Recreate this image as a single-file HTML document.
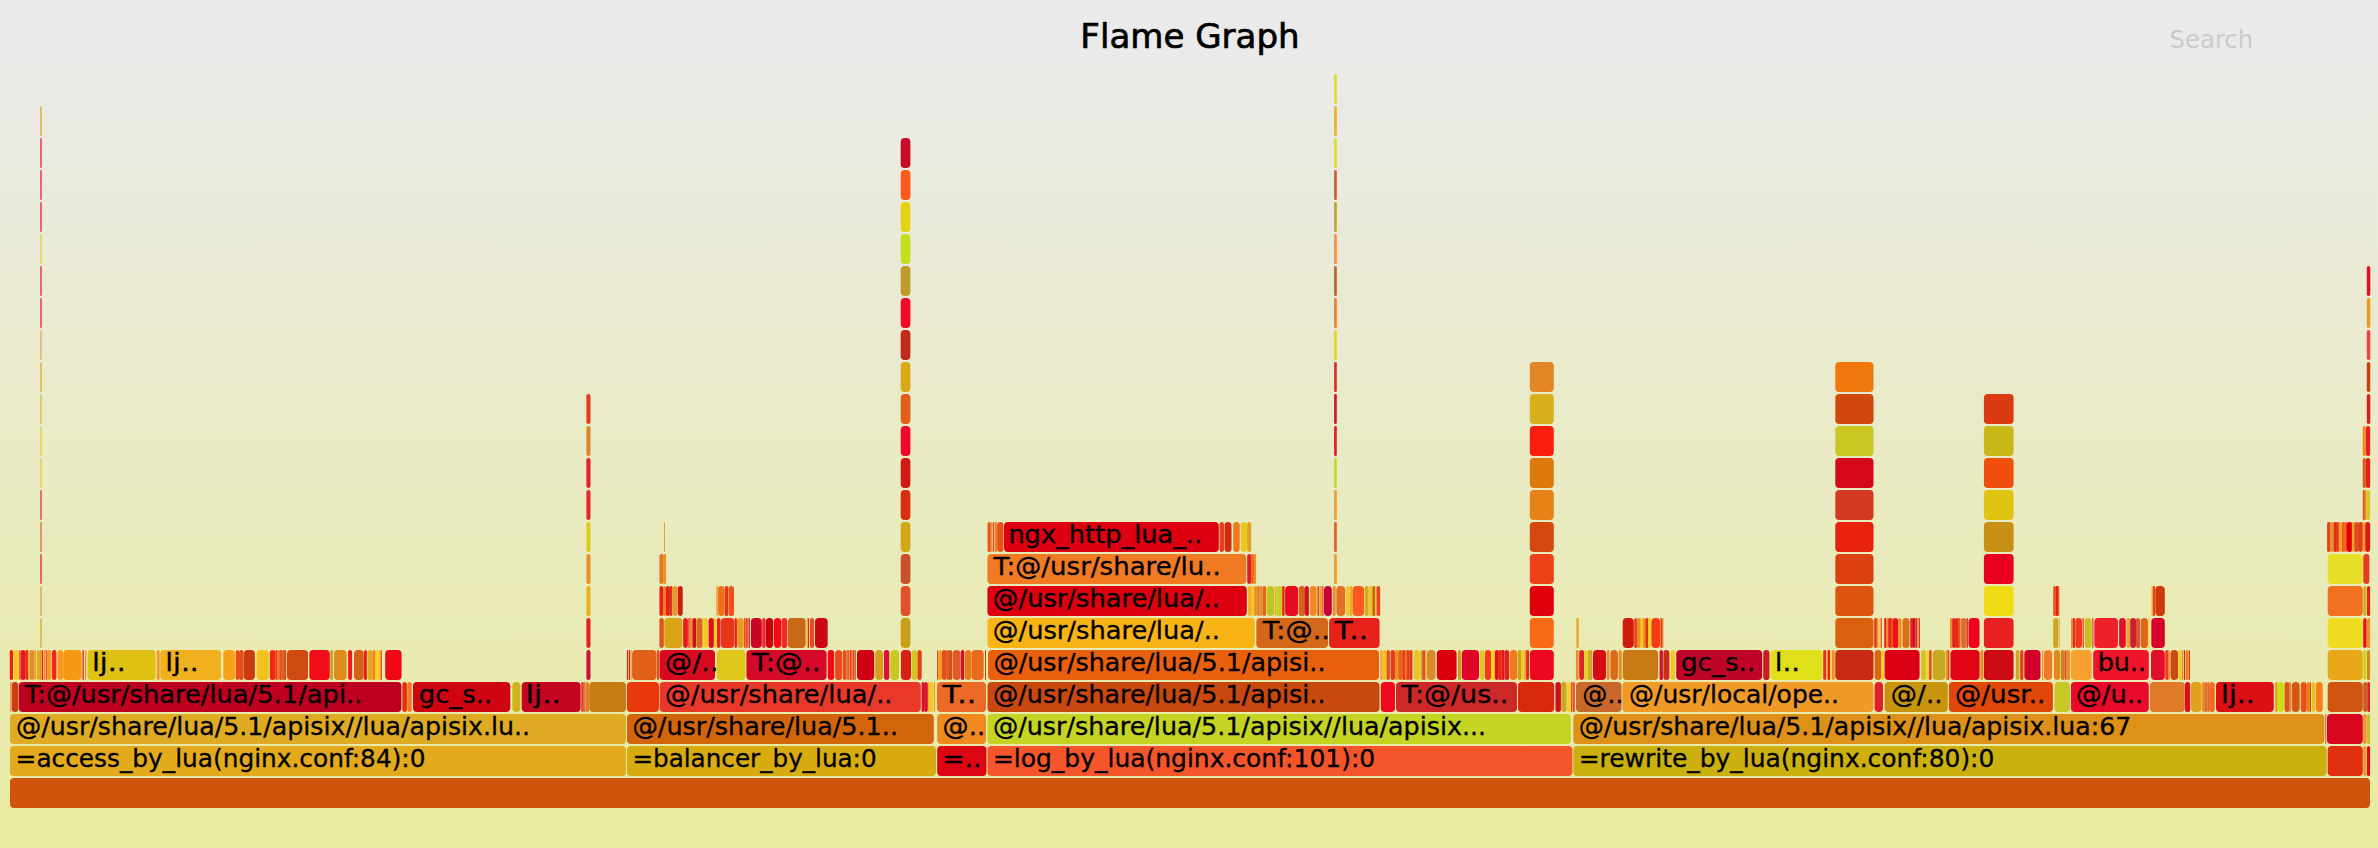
<!DOCTYPE html>
<html lang="en"><head><meta charset="utf-8"><title>Flame Graph</title>
<style>
html,body{margin:0;padding:0;background:#ecec9f;}
body{width:2378px;height:848px;overflow:hidden;}
svg{display:block}
text{font-family:"DejaVu Sans","Liberation Sans",sans-serif;}
.f{font-size:24px;fill:#000;stroke:#000;stroke-width:0.3px}
</style></head><body>
<svg width="2378" height="848" viewBox="0 0 2378 848">
<defs><linearGradient id="bg" x1="0" y1="0" x2="0" y2="876" gradientUnits="userSpaceOnUse"><stop offset="5%" stop-color="#eaeaea"/><stop offset="95%" stop-color="#e9eba2"/></linearGradient></defs>
<rect x="0" y="0" width="2378" height="848" fill="url(#bg)"/>
<text x="1190" y="48" text-anchor="middle" font-size="34" fill="#000" stroke="#000" stroke-width="0.7" textLength="219.3" lengthAdjust="spacingAndGlyphs">Flame Graph</text>
<text x="2169.5" y="48" font-size="24" fill="#000" opacity="0.13" textLength="83.7" lengthAdjust="spacingAndGlyphs">Search</text>
<rect x="10" y="778" width="2360" height="30" rx="4" ry="4" fill="#d0520c"/>
<rect x="10" y="746" width="616" height="30" rx="4" ry="4" fill="#e2aa1c"/><text class="f" x="15.6" y="767" textLength="409.9" lengthAdjust="spacingAndGlyphs">=access_by_lua(nginx.conf:84):0</text>
<rect x="627" y="746" width="309" height="30" rx="4" ry="4" fill="#d8ac10"/><text class="f" x="632.4" y="767" textLength="244.2" lengthAdjust="spacingAndGlyphs">=balancer_by_lua:0</text>
<rect x="937.2" y="746" width="49.3" height="30" rx="4" ry="4" fill="#dc0514"/><text class="f" x="942.6" y="767" textLength="38.8" lengthAdjust="spacingAndGlyphs">=..</text>
<rect x="987.5" y="746" width="584.9" height="30" rx="4" ry="4" fill="#f4552a"/><text class="f" x="992.9" y="767" textLength="382.3" lengthAdjust="spacingAndGlyphs">=log_by_lua(nginx.conf:101):0</text>
<rect x="1573.3" y="746" width="753.4" height="30" rx="4" ry="4" fill="#ccb010"/><text class="f" x="1578.7" y="767" textLength="415.7" lengthAdjust="spacingAndGlyphs">=rewrite_by_lua(nginx.conf:80):0</text>
<rect x="2327.7" y="746" width="35.1" height="30" rx="4" ry="4" fill="#e03010"/>
<rect x="2363.2" y="746" width="3.4" height="30" rx="1.7" ry="1.7" fill="#e89a28"/>
<rect x="2367" y="746" width="3.1" height="30" rx="1.5" ry="1.5" fill="#e00a20"/>
<rect x="10" y="714" width="616" height="30" rx="4" ry="4" fill="#dfab22"/><text class="f" x="16" y="735" textLength="514.1" lengthAdjust="spacingAndGlyphs">@/usr/share/lua/5.1/apisix//lua/apisix.lu..</text>
<rect x="627" y="714" width="306.8" height="30" rx="4" ry="4" fill="#d2650c"/><text class="f" x="632.4" y="735" textLength="265.6" lengthAdjust="spacingAndGlyphs">@/usr/share/lua/5.1..</text>
<rect x="937.2" y="714" width="48.8" height="30" rx="4" ry="4" fill="#ee8a20"/><text class="f" x="942.6" y="735" textLength="42.6" lengthAdjust="spacingAndGlyphs">@..</text>
<rect x="987.5" y="714" width="583.4" height="30" rx="4" ry="4" fill="#c5d422"/><text class="f" x="992.9" y="735" textLength="493.3" lengthAdjust="spacingAndGlyphs">@/usr/share/lua/5.1/apisix//lua/apisix...</text>
<rect x="1573.3" y="714" width="751" height="30" rx="4" ry="4" fill="#de9118"/><text class="f" x="1578.7" y="735" textLength="552.5" lengthAdjust="spacingAndGlyphs">@/usr/share/lua/5.1/apisix//lua/apisix.lua:67</text>
<rect x="2325.4" y="714" width="0.8" height="30" rx="0.4" ry="0.4" fill="#e02020"/>
<rect x="2327" y="714" width="35.8" height="30" rx="4" ry="4" fill="#d8061c"/>
<rect x="2363.2" y="714" width="3.4" height="30" rx="1.7" ry="1.7" fill="#f09030"/>
<rect x="2367" y="714" width="3.1" height="30" rx="1.5" ry="1.5" fill="#c8c030"/>
<rect x="10.4" y="682" width="0.9" height="30" rx="0.5" ry="0.5" fill="#f0601a"/>
<rect x="11.8" y="682" width="6.5" height="30" rx="3.2" ry="3.2" fill="#cc3d12"/>
<rect x="18.8" y="682" width="382.6" height="30" rx="4" ry="4" fill="#be0020"/><text class="f" x="24.7" y="703" textLength="337.7" lengthAdjust="spacingAndGlyphs">T:@/usr/share/lua/5.1/api..</text>
<rect x="402.3" y="682" width="4.6" height="30" rx="2.3" ry="2.3" fill="#e03010"/>
<rect x="407.2" y="682" width="4.6" height="30" rx="2.3" ry="2.3" fill="#f57820"/>
<rect x="413" y="682" width="97.3" height="30" rx="4" ry="4" fill="#cf0512"/><text class="f" x="418.7" y="703" textLength="73.6" lengthAdjust="spacingAndGlyphs">gc_s..</text>
<rect x="512.3" y="682" width="8.1" height="30" rx="4" ry="4" fill="#cdb418"/>
<rect x="521.7" y="682" width="58.9" height="30" rx="4" ry="4" fill="#c40620"/><text class="f" x="525.8" y="703" textLength="35.1" lengthAdjust="spacingAndGlyphs">lj..</text>
<rect x="581.2" y="682" width="2.6" height="30" rx="1.3" ry="1.3" fill="#e8401a"/>
<rect x="584.4" y="682" width="1" height="30" rx="0.5" ry="0.5" fill="#e0201a"/>
<rect x="585.9" y="682" width="3.1" height="30" rx="1.6" ry="1.6" fill="#e0801a"/>
<rect x="589.2" y="682" width="36.8" height="30" rx="4" ry="4" fill="#c87c14"/>
<rect x="626.9" y="682" width="32.1" height="30" rx="4" ry="4" fill="#e8380c"/>
<rect x="659.6" y="682" width="261.2" height="30" rx="4" ry="4" fill="#e8382a"/><text class="f" x="665" y="703" textLength="227.5" lengthAdjust="spacingAndGlyphs">@/usr/share/lua/..</text>
<rect x="921.6" y="682" width="2.5" height="30" rx="1.2" ry="1.2" fill="#d8102a"/>
<rect x="924.1" y="682" width="3.7" height="30" rx="1.9" ry="1.9" fill="#d8102a"/>
<rect x="928.2" y="682" width="0.7" height="30" rx="0.3" ry="0.3" fill="#f0901a"/>
<rect x="929" y="682" width="4.5" height="30" rx="2.3" ry="2.3" fill="#f8c81e"/>
<rect x="934" y="682" width="1" height="30" rx="0.5" ry="0.5" fill="#f0901a"/>
<rect x="937" y="682" width="49" height="30" rx="4" ry="4" fill="#ec6a28"/><text class="f" x="942.4" y="703" textLength="34" lengthAdjust="spacingAndGlyphs">T..</text>
<rect x="987.5" y="682" width="392" height="30" rx="4" ry="4" fill="#c8480f"/><text class="f" x="992.9" y="703" textLength="332.6" lengthAdjust="spacingAndGlyphs">@/usr/share/lua/5.1/apisi..</text>
<rect x="1380.8" y="682" width="14.2" height="30" rx="4" ry="4" fill="#f00820"/>
<rect x="1396" y="682" width="121" height="30" rx="4" ry="4" fill="#cc2828"/><text class="f" x="1401.4" y="703" textLength="107" lengthAdjust="spacingAndGlyphs">T:@/us..</text>
<rect x="1518" y="682" width="36.2" height="30" rx="4" ry="4" fill="#d8280e"/>
<rect x="1555.4" y="682" width="5.5" height="30" rx="2.7" ry="2.7" fill="#cc1020"/>
<rect x="1561.2" y="682" width="5.4" height="30" rx="2.7" ry="2.7" fill="#c8a820"/>
<rect x="1567.2" y="682" width="3.2" height="30" rx="1.6" ry="1.6" fill="#f8d020"/>
<rect x="1570.9" y="682" width="0.9" height="30" rx="0.4" ry="0.4" fill="#e02020"/>
<rect x="1572.4" y="682" width="2.5" height="30" rx="1.2" ry="1.2" fill="#e8501a"/>
<rect x="1576" y="682" width="45.5" height="30" rx="4" ry="4" fill="#c8682a"/><text class="f" x="1582.3" y="703" textLength="41.1" lengthAdjust="spacingAndGlyphs">@..</text>
<rect x="1622.3" y="682" width="251.2" height="30" rx="4" ry="4" fill="#f09a28"/><text class="f" x="1629" y="703" textLength="210" lengthAdjust="spacingAndGlyphs">@/usr/local/ope..</text>
<rect x="1874.6" y="682" width="8.4" height="30" rx="4" ry="4" fill="#e0202a"/>
<rect x="1884.6" y="682" width="63.2" height="30" rx="4" ry="4" fill="#c8940c"/><text class="f" x="1890.8" y="703" textLength="51.8" lengthAdjust="spacingAndGlyphs">@/..</text>
<rect x="1948.9" y="682" width="104" height="30" rx="4" ry="4" fill="#e0480a"/><text class="f" x="1955" y="703" textLength="90.4" lengthAdjust="spacingAndGlyphs">@/usr..</text>
<rect x="2054.4" y="682" width="15.5" height="30" rx="4" ry="4" fill="#c8c828"/>
<rect x="2070.9" y="682" width="77.9" height="30" rx="4" ry="4" fill="#e80a28"/><text class="f" x="2076.1" y="703" textLength="67.2" lengthAdjust="spacingAndGlyphs">@/u..</text>
<rect x="2149.9" y="682" width="34.9" height="30" rx="4" ry="4" fill="#e07a28"/>
<rect x="2185" y="682" width="5.2" height="30" rx="2.6" ry="2.6" fill="#d81020"/>
<rect x="2190.9" y="682" width="10.7" height="30" rx="4" ry="4" fill="#e0a01c"/>
<rect x="2202.2" y="682" width="2.6" height="30" rx="1.3" ry="1.3" fill="#f0801a"/>
<rect x="2204.6" y="682" width="3.1" height="30" rx="1.5" ry="1.5" fill="#e0702a"/>
<rect x="2207.8" y="682" width="1" height="30" rx="0.5" ry="0.5" fill="#c8501a"/>
<rect x="2209.1" y="682" width="5.6" height="30" rx="2.8" ry="2.8" fill="#f86820"/>
<rect x="2216" y="682" width="57.8" height="30" rx="4" ry="4" fill="#dc1014"/><text class="f" x="2221" y="703" textLength="33.8" lengthAdjust="spacingAndGlyphs">lj..</text>
<rect x="2275.2" y="682" width="2.3" height="30" rx="1.1" ry="1.1" fill="#f0901a"/>
<rect x="2277.7" y="682" width="6.4" height="30" rx="3.2" ry="3.2" fill="#c8e010"/>
<rect x="2284.6" y="682" width="4.7" height="30" rx="2.3" ry="2.3" fill="#e0501a"/>
<rect x="2289.4" y="682" width="1.4" height="30" rx="0.7" ry="0.7" fill="#e8601a"/>
<rect x="2291.7" y="682" width="8" height="30" rx="4" ry="4" fill="#d05a14"/>
<rect x="2300.7" y="682" width="6.1" height="30" rx="3.1" ry="3.1" fill="#e8501a"/>
<rect x="2307" y="682" width="3" height="30" rx="1.5" ry="1.5" fill="#f0801a"/>
<rect x="2310" y="682" width="1" height="30" rx="0.5" ry="0.5" fill="#c8501a"/>
<rect x="2311.7" y="682" width="3.5" height="30" rx="1.8" ry="1.8" fill="#e8c020"/>
<rect x="2315.8" y="682" width="7" height="30" rx="3.5" ry="3.5" fill="#f8801a"/>
<rect x="2327.7" y="682" width="35.1" height="30" rx="4" ry="4" fill="#d05412"/>
<rect x="2363.2" y="682" width="4" height="30" rx="2" ry="2" fill="#c8602a"/>
<rect x="2367.3" y="682" width="2.7" height="30" rx="1.3" ry="1.3" fill="#e0201a"/>
<rect x="9.8" y="650" width="3.2" height="30" rx="1.6" ry="1.6" fill="#e8201a"/>
<rect x="13.3" y="650" width="5.4" height="30" rx="2.7" ry="2.7" fill="#f8c81e"/>
<rect x="19.3" y="650" width="1" height="30" rx="0.5" ry="0.5" fill="#e8201a"/>
<rect x="20.5" y="650" width="5.3" height="30" rx="2.7" ry="2.7" fill="#e81a1a"/>
<rect x="25.8" y="650" width="2.3" height="30" rx="1.2" ry="1.2" fill="#e8301a"/>
<rect x="28.3" y="650" width="1.1" height="30" rx="0.5" ry="0.5" fill="#f0901a"/>
<rect x="29.6" y="650" width="4.7" height="30" rx="2.4" ry="2.4" fill="#e0902a"/>
<rect x="34.4" y="650" width="1.4" height="30" rx="0.7" ry="0.7" fill="#f0901a"/>
<rect x="36.6" y="650" width="3.3" height="30" rx="1.7" ry="1.7" fill="#e0b020"/>
<rect x="39.6" y="650" width="2.2" height="30" rx="1.1" ry="1.1" fill="#f0901a"/>
<rect x="42" y="650" width="1.2" height="30" rx="0.6" ry="0.6" fill="#e8201a"/>
<rect x="43.9" y="650" width="1.4" height="30" rx="0.7" ry="0.7" fill="#f0901a"/>
<rect x="45.8" y="650" width="0.9" height="30" rx="0.5" ry="0.5" fill="#e8201a"/>
<rect x="46.9" y="650" width="4.5" height="30" rx="2.2" ry="2.2" fill="#f09a28"/>
<rect x="52" y="650" width="4.4" height="30" rx="2.2" ry="2.2" fill="#f8201a"/>
<rect x="57.6" y="650" width="5.4" height="30" rx="2.7" ry="2.7" fill="#f59a1a"/>
<rect x="63.2" y="650" width="18.4" height="30" rx="4" ry="4" fill="#f59a10"/>
<rect x="82.5" y="650" width="1.3" height="30" rx="0.6" ry="0.6" fill="#e0201a"/>
<rect x="84.9" y="650" width="1.4" height="30" rx="0.7" ry="0.7" fill="#f0902a"/>
<rect x="87.5" y="650" width="68.1" height="30" rx="4" ry="4" fill="#dfc211"/><text class="f" x="92" y="671" textLength="33.7" lengthAdjust="spacingAndGlyphs">lj..</text>
<rect x="156.7" y="650" width="3" height="30" rx="1.5" ry="1.5" fill="#f09a30"/>
<rect x="160.2" y="650" width="60.8" height="30" rx="4" ry="4" fill="#f0b020"/><text class="f" x="165.3" y="671" textLength="33.5" lengthAdjust="spacingAndGlyphs">lj..</text>
<rect x="223.3" y="650" width="11.7" height="30" rx="4" ry="4" fill="#f5a214"/>
<rect x="235.7" y="650" width="3.4" height="30" rx="1.7" ry="1.7" fill="#f04a1a"/>
<rect x="239" y="650" width="4.6" height="30" rx="2.3" ry="2.3" fill="#e0501a"/>
<rect x="243.8" y="650" width="11.1" height="30" rx="4" ry="4" fill="#cc3a10"/>
<rect x="256.5" y="650" width="12.3" height="30" rx="4" ry="4" fill="#f2c31d"/>
<rect x="269.8" y="650" width="5.5" height="30" rx="2.8" ry="2.8" fill="#ee2a12"/>
<rect x="275.2" y="650" width="2.5" height="30" rx="1.3" ry="1.3" fill="#e8401a"/>
<rect x="277.4" y="650" width="2.5" height="30" rx="1.3" ry="1.3" fill="#f07a30"/>
<rect x="279.5" y="650" width="2.5" height="30" rx="1.3" ry="1.3" fill="#e0502a"/>
<rect x="281.7" y="650" width="2.5" height="30" rx="1.3" ry="1.3" fill="#e8602a"/>
<rect x="283.8" y="650" width="2.5" height="30" rx="1.3" ry="1.3" fill="#d8501a"/>
<rect x="287" y="650" width="21" height="30" rx="4" ry="4" fill="#cf4a10"/>
<rect x="309.3" y="650" width="20.5" height="30" rx="4" ry="4" fill="#f20d18"/>
<rect x="330.3" y="650" width="2.6" height="30" rx="1.3" ry="1.3" fill="#c0a020"/>
<rect x="333.9" y="650" width="12.7" height="30" rx="4" ry="4" fill="#dd8c1e"/>
<rect x="348.1" y="650" width="4" height="30" rx="2" ry="2" fill="#f01a1a"/>
<rect x="354" y="650" width="9.8" height="30" rx="4" ry="4" fill="#d4601a"/>
<rect x="364" y="650" width="2.9" height="30" rx="1.5" ry="1.5" fill="#e8201a"/>
<rect x="367.5" y="650" width="5" height="30" rx="2.5" ry="2.5" fill="#e0a81a"/>
<rect x="372.4" y="650" width="3.1" height="30" rx="1.6" ry="1.6" fill="#f08020"/>
<rect x="375.4" y="650" width="4.9" height="30" rx="2.5" ry="2.5" fill="#f8d01e"/>
<rect x="380.6" y="650" width="1.2" height="30" rx="0.6" ry="0.6" fill="#e02a1a"/>
<rect x="385.2" y="650" width="16.4" height="30" rx="4" ry="4" fill="#ee0814"/>
<rect x="586.4" y="650" width="4.1" height="30" rx="2.1" ry="2.1" fill="#c8103a"/>
<rect x="626.9" y="650" width="1.4" height="30" rx="0.7" ry="0.7" fill="#e8201a"/>
<rect x="629" y="650" width="1.2" height="30" rx="0.6" ry="0.6" fill="#e8201a"/>
<rect x="630.7" y="650" width="0.9" height="30" rx="0.4" ry="0.4" fill="#f0901a"/>
<rect x="632.1" y="650" width="24.5" height="30" rx="4" ry="4" fill="#e0601a"/>
<rect x="657" y="650" width="2.3" height="30" rx="1.2" ry="1.2" fill="#e8501a"/>
<rect x="659.6" y="650" width="55.4" height="30" rx="4" ry="4" fill="#d80a20"/><text class="f" x="665" y="671" textLength="53.6" lengthAdjust="spacingAndGlyphs">@/..</text>
<rect x="716.7" y="650" width="28.7" height="30" rx="4" ry="4" fill="#e0c81a"/>
<rect x="746.4" y="650" width="80.2" height="30" rx="4" ry="4" fill="#d40a28"/><text class="f" x="751.8" y="671" textLength="68.8" lengthAdjust="spacingAndGlyphs">T:@..</text>
<rect x="827.7" y="650" width="6.5" height="30" rx="3.2" ry="3.2" fill="#f00a14"/>
<rect x="835.1" y="650" width="7.1" height="30" rx="3.6" ry="3.6" fill="#ea4a1a"/>
<rect x="842.8" y="650" width="3.5" height="30" rx="1.8" ry="1.8" fill="#e0501a"/>
<rect x="846.4" y="650" width="1.4" height="30" rx="0.7" ry="0.7" fill="#e8501a"/>
<rect x="848" y="650" width="1.4" height="30" rx="0.7" ry="0.7" fill="#f0601a"/>
<rect x="849.6" y="650" width="1.4" height="30" rx="0.7" ry="0.7" fill="#e8401a"/>
<rect x="851.2" y="650" width="1.4" height="30" rx="0.7" ry="0.7" fill="#f0501a"/>
<rect x="852.8" y="650" width="1.4" height="30" rx="0.7" ry="0.7" fill="#e8501a"/>
<rect x="854.4" y="650" width="1.4" height="30" rx="0.7" ry="0.7" fill="#e0401a"/>
<rect x="857" y="650" width="17.2" height="30" rx="4" ry="4" fill="#d00014"/>
<rect x="875.2" y="650" width="7.8" height="30" rx="3.9" ry="3.9" fill="#d8a01a"/>
<rect x="883.9" y="650" width="5.4" height="30" rx="2.7" ry="2.7" fill="#d8103a"/>
<rect x="890.3" y="650" width="8.7" height="30" rx="4" ry="4" fill="#c8c81e"/>
<rect x="900.9" y="650" width="10.1" height="30" rx="4" ry="4" fill="#d8201a"/>
<rect x="911.6" y="650" width="5.7" height="30" rx="2.9" ry="2.9" fill="#d0c820"/>
<rect x="917.5" y="650" width="4.2" height="30" rx="2.1" ry="2.1" fill="#e0401a"/>
<rect x="937" y="650" width="0.8" height="30" rx="0.4" ry="0.4" fill="#e0201a"/>
<rect x="938" y="650" width="4" height="30" rx="2" ry="2" fill="#f8a028"/>
<rect x="941.9" y="650" width="4.9" height="30" rx="2.4" ry="2.4" fill="#e0501a"/>
<rect x="946.6" y="650" width="2.3" height="30" rx="1.2" ry="1.2" fill="#e8501a"/>
<rect x="948.9" y="650" width="3.1" height="30" rx="1.6" ry="1.6" fill="#d84a1a"/>
<rect x="952.5" y="650" width="8.1" height="30" rx="4" ry="4" fill="#e05a2a"/>
<rect x="960.9" y="650" width="3.4" height="30" rx="1.7" ry="1.7" fill="#d0102a"/>
<rect x="964.9" y="650" width="6.3" height="30" rx="3.2" ry="3.2" fill="#e87a1a"/>
<rect x="971.4" y="650" width="12.3" height="30" rx="4" ry="4" fill="#e86a1a"/>
<rect x="985" y="650" width="1" height="30" rx="0.5" ry="0.5" fill="#c04010"/>
<rect x="988" y="650" width="391" height="30" rx="4" ry="4" fill="#e8600e"/><text class="f" x="993.4" y="671" textLength="332.1" lengthAdjust="spacingAndGlyphs">@/usr/share/lua/5.1/apisi..</text>
<rect x="1380.4" y="650" width="1.3" height="30" rx="0.6" ry="0.6" fill="#f08a28"/>
<rect x="1382" y="650" width="4.6" height="30" rx="2.3" ry="2.3" fill="#f0c028"/>
<rect x="1386.6" y="650" width="3.3" height="30" rx="1.6" ry="1.6" fill="#e8501a"/>
<rect x="1390.5" y="650" width="4.5" height="30" rx="2.2" ry="2.2" fill="#d8402a"/>
<rect x="1395" y="650" width="3.3" height="30" rx="1.6" ry="1.6" fill="#f0901a"/>
<rect x="1398.2" y="650" width="4.6" height="30" rx="2.3" ry="2.3" fill="#e8601a"/>
<rect x="1402.7" y="650" width="2.6" height="30" rx="1.3" ry="1.3" fill="#e8301a"/>
<rect x="1404.7" y="650" width="2.6" height="30" rx="1.3" ry="1.3" fill="#f07a1a"/>
<rect x="1406.8" y="650" width="2.6" height="30" rx="1.3" ry="1.3" fill="#e0401a"/>
<rect x="1409.2" y="650" width="3.3" height="30" rx="1.6" ry="1.6" fill="#e03a1a"/>
<rect x="1413.5" y="650" width="6.5" height="30" rx="3.2" ry="3.2" fill="#e8c828"/>
<rect x="1420.6" y="650" width="1.4" height="30" rx="0.7" ry="0.7" fill="#c8a828"/>
<rect x="1422.2" y="650" width="3.2" height="30" rx="1.6" ry="1.6" fill="#e8501a"/>
<rect x="1425.5" y="650" width="1.1" height="30" rx="0.5" ry="0.5" fill="#f0a030"/>
<rect x="1427" y="650" width="8.5" height="30" rx="4" ry="4" fill="#d88a28"/>
<rect x="1436.8" y="650" width="19.8" height="30" rx="4" ry="4" fill="#dc000c"/>
<rect x="1457.9" y="650" width="3.3" height="30" rx="1.6" ry="1.6" fill="#c8a020"/>
<rect x="1461.8" y="650" width="17.2" height="30" rx="4" ry="4" fill="#e00428"/>
<rect x="1479.9" y="650" width="4.6" height="30" rx="2.3" ry="2.3" fill="#e0c820"/>
<rect x="1484.9" y="650" width="6.1" height="30" rx="3" ry="3" fill="#f03a1a"/>
<rect x="1491" y="650" width="3.9" height="30" rx="1.9" ry="1.9" fill="#f8d020"/>
<rect x="1494.9" y="650" width="3.9" height="30" rx="1.9" ry="1.9" fill="#e0101a"/>
<rect x="1498.7" y="650" width="2.3" height="30" rx="1.1" ry="1.1" fill="#e8201a"/>
<rect x="1500.5" y="650" width="2.3" height="30" rx="1.1" ry="1.1" fill="#f03a1a"/>
<rect x="1502.2" y="650" width="2.3" height="30" rx="1.1" ry="1.1" fill="#e0101a"/>
<rect x="1504.6" y="650" width="4.6" height="30" rx="2.3" ry="2.3" fill="#e0201a"/>
<rect x="1509.8" y="650" width="7.4" height="30" rx="3.7" ry="3.7" fill="#f07a1a"/>
<rect x="1517.6" y="650" width="3.9" height="30" rx="1.9" ry="1.9" fill="#c8a020"/>
<rect x="1521.5" y="650" width="2.7" height="30" rx="1.3" ry="1.3" fill="#f8d020"/>
<rect x="1524.4" y="650" width="1.4" height="30" rx="0.7" ry="0.7" fill="#f08a28"/>
<rect x="1526.1" y="650" width="2.9" height="30" rx="1.4" ry="1.4" fill="#e0301a"/>
<rect x="1529.8" y="650" width="24" height="30" rx="4" ry="4" fill="#ec0820"/>
<rect x="1575.9" y="650" width="2.7" height="30" rx="1.3" ry="1.3" fill="#f08a28"/>
<rect x="1579.2" y="650" width="4.9" height="30" rx="2.4" ry="2.4" fill="#e0202a"/>
<rect x="1584.2" y="650" width="4" height="30" rx="2" ry="2" fill="#e8d020"/>
<rect x="1588.2" y="650" width="2.7" height="30" rx="1.3" ry="1.3" fill="#c8a828"/>
<rect x="1591" y="650" width="1.2" height="30" rx="0.6" ry="0.6" fill="#f08a28"/>
<rect x="1593" y="650" width="13" height="30" rx="4" ry="4" fill="#d80a14"/>
<rect x="1606.7" y="650" width="2.9" height="30" rx="1.4" ry="1.4" fill="#f08a28"/>
<rect x="1610.4" y="650" width="7.5" height="30" rx="3.8" ry="3.8" fill="#d86a1a"/>
<rect x="1618.5" y="650" width="3.3" height="30" rx="1.6" ry="1.6" fill="#e0902a"/>
<rect x="1622.7" y="650" width="35.5" height="30" rx="4" ry="4" fill="#c87a14"/>
<rect x="1659.6" y="650" width="3.3" height="30" rx="1.6" ry="1.6" fill="#d0103a"/>
<rect x="1663.4" y="650" width="6" height="30" rx="3" ry="3" fill="#d02a14"/>
<rect x="1670.7" y="650" width="4.4" height="30" rx="2.2" ry="2.2" fill="#f0c81e"/>
<rect x="1676.2" y="650" width="86" height="30" rx="4" ry="4" fill="#c00428"/><text class="f" x="1681" y="671" textLength="74.1" lengthAdjust="spacingAndGlyphs">gc_s..</text>
<rect x="1763.2" y="650" width="6.3" height="30" rx="3.1" ry="3.1" fill="#c82020"/>
<rect x="1770.6" y="650" width="52" height="30" rx="4" ry="4" fill="#e0e01a"/><text class="f" x="1774.8" y="671" textLength="25.4" lengthAdjust="spacingAndGlyphs">l..</text>
<rect x="1823.2" y="650" width="2.9" height="30" rx="1.4" ry="1.4" fill="#e8301a"/>
<rect x="1826.5" y="650" width="1" height="30" rx="0.5" ry="0.5" fill="#f0901a"/>
<rect x="1827.7" y="650" width="2.4" height="30" rx="1.2" ry="1.2" fill="#e8201a"/>
<rect x="1830.4" y="650" width="1.3" height="30" rx="0.6" ry="0.6" fill="#f8d020"/>
<rect x="1832" y="650" width="2.7" height="30" rx="1.3" ry="1.3" fill="#f0901a"/>
<rect x="1835.3" y="650" width="38.2" height="30" rx="4" ry="4" fill="#c82a14"/>
<rect x="1874.6" y="650" width="6.8" height="30" rx="3.4" ry="3.4" fill="#d86a14"/>
<rect x="1881.7" y="650" width="2.3" height="30" rx="1.1" ry="1.1" fill="#f8d020"/>
<rect x="1884.6" y="650" width="35" height="30" rx="4" ry="4" fill="#dc0014"/>
<rect x="1921.1" y="650" width="5" height="30" rx="2.5" ry="2.5" fill="#d8c028"/>
<rect x="1926.7" y="650" width="2.7" height="30" rx="1.3" ry="1.3" fill="#f8d020"/>
<rect x="1929.2" y="650" width="2.4" height="30" rx="1.2" ry="1.2" fill="#e8401a"/>
<rect x="1932.6" y="650" width="12.6" height="30" rx="4" ry="4" fill="#c8a820"/>
<rect x="1945.7" y="650" width="2.5" height="30" rx="1.2" ry="1.2" fill="#f0901a"/>
<rect x="1948.2" y="650" width="1" height="30" rx="0.5" ry="0.5" fill="#e0201a"/>
<rect x="1950.4" y="650" width="29.2" height="30" rx="4" ry="4" fill="#e00414"/>
<rect x="1980.4" y="650" width="2.8" height="30" rx="1.4" ry="1.4" fill="#f08a1a"/>
<rect x="1983.9" y="650" width="29.7" height="30" rx="4" ry="4" fill="#cc0a14"/>
<rect x="2015.7" y="650" width="3.7" height="30" rx="1.8" ry="1.8" fill="#c8a828"/>
<rect x="2020.1" y="650" width="3.3" height="30" rx="1.6" ry="1.6" fill="#e8401a"/>
<rect x="2024.3" y="650" width="16.2" height="30" rx="4" ry="4" fill="#d00028"/>
<rect x="2042" y="650" width="1.3" height="30" rx="0.6" ry="0.6" fill="#f0901a"/>
<rect x="2044" y="650" width="8.2" height="30" rx="4" ry="4" fill="#f07a28"/>
<rect x="2054" y="650" width="6" height="30" rx="3" ry="3" fill="#e08a1e"/>
<rect x="2060.7" y="650" width="4.2" height="30" rx="2.1" ry="2.1" fill="#d08020"/>
<rect x="2065.2" y="650" width="1.3" height="30" rx="0.7" ry="0.7" fill="#e0201a"/>
<rect x="2066.8" y="650" width="3.3" height="30" rx="1.6" ry="1.6" fill="#f0901a"/>
<rect x="2071" y="650" width="20.7" height="30" rx="4" ry="4" fill="#f8a030"/>
<rect x="2093.2" y="650" width="55.6" height="30" rx="4" ry="4" fill="#f0142a"/><text class="f" x="2097.7" y="671" textLength="48.5" lengthAdjust="spacingAndGlyphs">bu..</text>
<rect x="2151" y="650" width="13.8" height="30" rx="4" ry="4" fill="#e0102a"/>
<rect x="2165.2" y="650" width="3.4" height="30" rx="1.7" ry="1.7" fill="#f03a1a"/>
<rect x="2168.8" y="650" width="1.1" height="30" rx="0.5" ry="0.5" fill="#f0901a"/>
<rect x="2170.5" y="650" width="7.6" height="30" rx="3.8" ry="3.8" fill="#c84a14"/>
<rect x="2178.3" y="650" width="3.1" height="30" rx="1.5" ry="1.5" fill="#e8d028"/>
<rect x="2181.7" y="650" width="1.3" height="30" rx="0.7" ry="0.7" fill="#f0901a"/>
<rect x="2183.8" y="650" width="1.2" height="30" rx="0.6" ry="0.6" fill="#e8201a"/>
<rect x="2185.6" y="650" width="3" height="30" rx="1.5" ry="1.5" fill="#e0801a"/>
<rect x="2189" y="650" width="1" height="30" rx="0.5" ry="0.5" fill="#e8201a"/>
<rect x="2327.7" y="650" width="35.1" height="30" rx="4" ry="4" fill="#e8a81a"/>
<rect x="2363.2" y="650" width="3.4" height="30" rx="1.7" ry="1.7" fill="#c8d820"/>
<rect x="2367" y="650" width="3.1" height="30" rx="1.5" ry="1.5" fill="#d08a28"/>
<rect x="40.3" y="618" width="1.4" height="30" rx="0.7" ry="0.7" fill="#d8b030"/>
<rect x="586.4" y="618" width="4.1" height="30" rx="2.1" ry="2.1" fill="#e0201a"/>
<rect x="659.4" y="618" width="4.4" height="30" rx="2.2" ry="2.2" fill="#e0521a"/>
<rect x="664.3" y="618" width="18.1" height="30" rx="4" ry="4" fill="#d9a516"/>
<rect x="683.1" y="618" width="4.8" height="30" rx="2.4" ry="2.4" fill="#f01a1a"/>
<rect x="688.3" y="618" width="1.3" height="30" rx="0.7" ry="0.7" fill="#e8201a"/>
<rect x="689.9" y="618" width="2.3" height="30" rx="1.1" ry="1.1" fill="#f0901a"/>
<rect x="692.4" y="618" width="3.9" height="30" rx="2" ry="2" fill="#d0101a"/>
<rect x="696.6" y="618" width="5.6" height="30" rx="2.8" ry="2.8" fill="#d56a18"/>
<rect x="702.3" y="618" width="0.9" height="30" rx="0.5" ry="0.5" fill="#f0901a"/>
<rect x="703.4" y="618" width="4.6" height="30" rx="2.3" ry="2.3" fill="#f0c828"/>
<rect x="708.6" y="618" width="5.3" height="30" rx="2.7" ry="2.7" fill="#e0101a"/>
<rect x="713.9" y="618" width="2.6" height="30" rx="1.3" ry="1.3" fill="#f8d020"/>
<rect x="716.9" y="618" width="3.5" height="30" rx="1.8" ry="1.8" fill="#f0201a"/>
<rect x="720.7" y="618" width="13.6" height="30" rx="4" ry="4" fill="#e8351c"/>
<rect x="734.6" y="618" width="2.3" height="30" rx="1.2" ry="1.2" fill="#e8201a"/>
<rect x="737.1" y="618" width="6.6" height="30" rx="3.3" ry="3.3" fill="#e89a20"/>
<rect x="744" y="618" width="1.3" height="30" rx="0.7" ry="0.7" fill="#f0501a"/>
<rect x="745.5" y="618" width="1.3" height="30" rx="0.7" ry="0.7" fill="#e8201a"/>
<rect x="747" y="618" width="1.3" height="30" rx="0.7" ry="0.7" fill="#f0601a"/>
<rect x="748.6" y="618" width="1.3" height="30" rx="0.7" ry="0.7" fill="#e0201a"/>
<rect x="750.9" y="618" width="10.9" height="30" rx="4" ry="4" fill="#cc0428"/>
<rect x="762.2" y="618" width="3.3" height="30" rx="1.7" ry="1.7" fill="#f02a2a"/>
<rect x="765.8" y="618" width="7.4" height="30" rx="3.7" ry="3.7" fill="#c80010"/>
<rect x="773.9" y="618" width="7.4" height="30" rx="3.7" ry="3.7" fill="#f00a14"/>
<rect x="781.6" y="618" width="5.5" height="30" rx="2.8" ry="2.8" fill="#ee2a2a"/>
<rect x="787.7" y="618" width="17.9" height="30" rx="4" ry="4" fill="#c86a14"/>
<rect x="806.3" y="618" width="0.9" height="30" rx="0.5" ry="0.5" fill="#f0c81e"/>
<rect x="807.7" y="618" width="1.3" height="30" rx="0.6" ry="0.6" fill="#e8201a"/>
<rect x="809.9" y="618" width="4.2" height="30" rx="2.1" ry="2.1" fill="#e84a20"/>
<rect x="815" y="618" width="12.7" height="30" rx="4" ry="4" fill="#cc0814"/>
<rect x="900.7" y="618" width="9.7" height="30" rx="4" ry="4" fill="#c8a01a"/>
<rect x="987.4" y="618" width="267.4" height="30" rx="4" ry="4" fill="#f8b414"/><text class="f" x="992.8" y="639" textLength="227.2" lengthAdjust="spacingAndGlyphs">@/usr/share/lua/..</text>
<rect x="1256.3" y="618" width="71.7" height="30" rx="4" ry="4" fill="#d4681a"/><text class="f" x="1262.7" y="639" textLength="67.3" lengthAdjust="spacingAndGlyphs">T:@..</text>
<rect x="1329.1" y="618" width="50.5" height="30" rx="4" ry="4" fill="#e8201a"/><text class="f" x="1334.6" y="639" textLength="33.5" lengthAdjust="spacingAndGlyphs">T..</text>
<rect x="1529.8" y="618" width="24" height="30" rx="4" ry="4" fill="#f86a14"/>
<rect x="1576.2" y="618" width="2.7" height="30" rx="1.3" ry="1.3" fill="#e8b030"/>
<rect x="1622.7" y="618" width="11.1" height="30" rx="4" ry="4" fill="#d01a10"/>
<rect x="1634.2" y="618" width="3" height="30" rx="1.5" ry="1.5" fill="#e8401a"/>
<rect x="1636.8" y="618" width="4.1" height="30" rx="2.1" ry="2.1" fill="#f08a28"/>
<rect x="1640.5" y="618" width="3" height="30" rx="1.5" ry="1.5" fill="#f0d020"/>
<rect x="1643" y="618" width="3" height="30" rx="1.5" ry="1.5" fill="#f0901a"/>
<rect x="1645.6" y="618" width="3" height="30" rx="1.5" ry="1.5" fill="#e0301a"/>
<rect x="1648.1" y="618" width="3" height="30" rx="1.5" ry="1.5" fill="#f8d020"/>
<rect x="1651.4" y="618" width="8.6" height="30" rx="4" ry="4" fill="#f83a14"/>
<rect x="1660.5" y="618" width="1.4" height="30" rx="0.7" ry="0.7" fill="#e0201a"/>
<rect x="1662" y="618" width="1.4" height="30" rx="0.7" ry="0.7" fill="#f0801a"/>
<rect x="1835.3" y="618" width="38.2" height="30" rx="4" ry="4" fill="#d8600e"/>
<rect x="1874.2" y="618" width="2.6" height="30" rx="1.3" ry="1.3" fill="#e8301a"/>
<rect x="1877.1" y="618" width="1.3" height="30" rx="0.7" ry="0.7" fill="#f0901a"/>
<rect x="1879" y="618" width="1.3" height="30" rx="0.6" ry="0.6" fill="#f8d020"/>
<rect x="1880.7" y="618" width="1.1" height="30" rx="0.5" ry="0.5" fill="#e8301a"/>
<rect x="1884.2" y="618" width="2.3" height="30" rx="1.1" ry="1.1" fill="#e8201a"/>
<rect x="1886.7" y="618" width="1.4" height="30" rx="0.7" ry="0.7" fill="#f0901a"/>
<rect x="1888.2" y="618" width="2.9" height="30" rx="1.4" ry="1.4" fill="#e8201a"/>
<rect x="1890.8" y="618" width="2.2" height="30" rx="1.1" ry="1.1" fill="#f0501a"/>
<rect x="1893" y="618" width="5.2" height="30" rx="2.6" ry="2.6" fill="#f0101a"/>
<rect x="1898.2" y="618" width="3.3" height="30" rx="1.6" ry="1.6" fill="#f0901a"/>
<rect x="1902.4" y="618" width="7.1" height="30" rx="3.5" ry="3.5" fill="#d8701a"/>
<rect x="1910.2" y="618" width="2.9" height="30" rx="1.4" ry="1.4" fill="#e8201a"/>
<rect x="1912.8" y="618" width="2.9" height="30" rx="1.4" ry="1.4" fill="#d0102a"/>
<rect x="1916" y="618" width="1.3" height="30" rx="0.6" ry="0.6" fill="#e8201a"/>
<rect x="1917.5" y="618" width="1.1" height="30" rx="0.5" ry="0.5" fill="#f0901a"/>
<rect x="1918.8" y="618" width="1.1" height="30" rx="0.6" ry="0.6" fill="#e8201a"/>
<rect x="1950" y="618" width="2.4" height="30" rx="1.2" ry="1.2" fill="#f0901a"/>
<rect x="1952.2" y="618" width="3.7" height="30" rx="1.8" ry="1.8" fill="#e8201a"/>
<rect x="1955.9" y="618" width="2.2" height="30" rx="1.1" ry="1.1" fill="#e8201a"/>
<rect x="1958" y="618" width="2.5" height="30" rx="1.2" ry="1.2" fill="#f0501a"/>
<rect x="1961.1" y="618" width="5.3" height="30" rx="2.6" ry="2.6" fill="#d8702a"/>
<rect x="1966.6" y="618" width="1.3" height="30" rx="0.7" ry="0.7" fill="#e8201a"/>
<rect x="1968.5" y="618" width="11" height="30" rx="4" ry="4" fill="#f0001a"/>
<rect x="1983.9" y="618" width="29.7" height="30" rx="4" ry="4" fill="#e82020"/>
<rect x="2053.2" y="618" width="5.2" height="30" rx="2.6" ry="2.6" fill="#c8a828"/>
<rect x="2058.9" y="618" width="0.8" height="30" rx="0.4" ry="0.4" fill="#f0a030"/>
<rect x="2071" y="618" width="1.3" height="30" rx="0.7" ry="0.7" fill="#f0901a"/>
<rect x="2072.6" y="618" width="2.3" height="30" rx="1.1" ry="1.1" fill="#e8201a"/>
<rect x="2075.3" y="618" width="6.7" height="30" rx="3.3" ry="3.3" fill="#f03a1a"/>
<rect x="2082.6" y="618" width="1.1" height="30" rx="0.5" ry="0.5" fill="#e8201a"/>
<rect x="2084.6" y="618" width="7.1" height="30" rx="3.5" ry="3.5" fill="#c8c020"/>
<rect x="2092.4" y="618" width="1" height="30" rx="0.5" ry="0.5" fill="#e8201a"/>
<rect x="2094.3" y="618" width="23.7" height="30" rx="4" ry="4" fill="#f02028"/>
<rect x="2119.1" y="618" width="6.7" height="30" rx="3.4" ry="3.4" fill="#e0102a"/>
<rect x="2126.5" y="618" width="3.7" height="30" rx="1.8" ry="1.8" fill="#f0a030"/>
<rect x="2130.2" y="618" width="5.8" height="30" rx="2.9" ry="2.9" fill="#c82030"/>
<rect x="2136" y="618" width="4.1" height="30" rx="2" ry="2" fill="#e0502a"/>
<rect x="2140.7" y="618" width="7.2" height="30" rx="3.6" ry="3.6" fill="#e0641a"/>
<rect x="2148.3" y="618" width="1.3" height="30" rx="0.6" ry="0.6" fill="#f0d028"/>
<rect x="2151.3" y="618" width="13.5" height="30" rx="4" ry="4" fill="#d8002a"/>
<rect x="2327.7" y="618" width="35.1" height="30" rx="4" ry="4" fill="#f0dc20"/>
<rect x="2363.2" y="618" width="3.4" height="30" rx="1.7" ry="1.7" fill="#e8101a"/>
<rect x="2367" y="618" width="3.1" height="30" rx="1.5" ry="1.5" fill="#f0901a"/>
<rect x="40.3" y="586" width="1.4" height="30" rx="0.7" ry="0.7" fill="#e0a840"/>
<rect x="586.4" y="586" width="4.1" height="30" rx="2.1" ry="2.1" fill="#e8b01e"/>
<rect x="659.4" y="586" width="3.7" height="30" rx="1.9" ry="1.9" fill="#e8201a"/>
<rect x="663" y="586" width="2.9" height="30" rx="1.5" ry="1.5" fill="#f0801a"/>
<rect x="665.9" y="586" width="4" height="30" rx="2" ry="2" fill="#e0201a"/>
<rect x="669.8" y="586" width="2.6" height="30" rx="1.3" ry="1.3" fill="#e8301a"/>
<rect x="672.8" y="586" width="4.8" height="30" rx="2.4" ry="2.4" fill="#e89a20"/>
<rect x="677.9" y="586" width="4.8" height="30" rx="2.4" ry="2.4" fill="#cc1a14"/>
<rect x="716.4" y="586" width="1.3" height="30" rx="0.7" ry="0.7" fill="#f0901a"/>
<rect x="718.1" y="586" width="6.5" height="30" rx="3.2" ry="3.2" fill="#f0701a"/>
<rect x="724.9" y="586" width="3.3" height="30" rx="1.6" ry="1.6" fill="#e8301a"/>
<rect x="728.5" y="586" width="5.5" height="30" rx="2.8" ry="2.8" fill="#f0501a"/>
<rect x="900.7" y="586" width="9.7" height="30" rx="4" ry="4" fill="#e0502a"/>
<rect x="987.4" y="586" width="259.4" height="30" rx="4" ry="4" fill="#dc0010"/><text class="f" x="992.8" y="607" textLength="227.2" lengthAdjust="spacingAndGlyphs">@/usr/share/lua/..</text>
<rect x="1247.9" y="586" width="3.9" height="30" rx="1.9" ry="1.9" fill="#f0b028"/>
<rect x="1251.7" y="586" width="2.3" height="30" rx="1.1" ry="1.1" fill="#f8c828"/>
<rect x="1254.1" y="586" width="2.9" height="30" rx="1.4" ry="1.4" fill="#f0901a"/>
<rect x="1257.2" y="586" width="2.5" height="30" rx="1.2" ry="1.2" fill="#d88030"/>
<rect x="1259.5" y="586" width="3.3" height="30" rx="1.6" ry="1.6" fill="#e0903a"/>
<rect x="1262.7" y="586" width="3.4" height="30" rx="1.7" ry="1.7" fill="#f0601a"/>
<rect x="1266.6" y="586" width="7.5" height="30" rx="3.8" ry="3.8" fill="#b8c81e"/>
<rect x="1274.7" y="586" width="1" height="30" rx="0.5" ry="0.5" fill="#f0901a"/>
<rect x="1276.1" y="586" width="6.2" height="30" rx="3.1" ry="3.1" fill="#c8d020"/>
<rect x="1282.2" y="586" width="2.4" height="30" rx="1.2" ry="1.2" fill="#e8201a"/>
<rect x="1285.1" y="586" width="13" height="30" rx="4" ry="4" fill="#e80a20"/>
<rect x="1298.7" y="586" width="6.3" height="30" rx="3.1" ry="3.1" fill="#d8601a"/>
<rect x="1304.9" y="586" width="4" height="30" rx="2" ry="2" fill="#d0102a"/>
<rect x="1309.8" y="586" width="6.8" height="30" rx="3.4" ry="3.4" fill="#f08a1e"/>
<rect x="1317.5" y="586" width="1.3" height="30" rx="0.6" ry="0.6" fill="#e8201a"/>
<rect x="1319.2" y="586" width="3.2" height="30" rx="1.6" ry="1.6" fill="#f0a028"/>
<rect x="1322.4" y="586" width="1" height="30" rx="0.5" ry="0.5" fill="#e8201a"/>
<rect x="1324" y="586" width="7.8" height="30" rx="3.9" ry="3.9" fill="#c8003a"/>
<rect x="1332.8" y="586" width="2.9" height="30" rx="1.4" ry="1.4" fill="#f0901a"/>
<rect x="1336.4" y="586" width="8.8" height="30" rx="4" ry="4" fill="#e0702a"/>
<rect x="1345.8" y="586" width="3.9" height="30" rx="1.9" ry="1.9" fill="#f0c828"/>
<rect x="1349.7" y="586" width="2.7" height="30" rx="1.3" ry="1.3" fill="#f0a830"/>
<rect x="1352.6" y="586" width="11.6" height="30" rx="4" ry="4" fill="#f85a20"/>
<rect x="1364.8" y="586" width="3.7" height="30" rx="1.8" ry="1.8" fill="#d8a820"/>
<rect x="1368.5" y="586" width="3.9" height="30" rx="1.9" ry="1.9" fill="#e8c828"/>
<rect x="1372.4" y="586" width="2.6" height="30" rx="1.3" ry="1.3" fill="#c8601a"/>
<rect x="1375" y="586" width="1.3" height="30" rx="0.6" ry="0.6" fill="#f0c828"/>
<rect x="1376.5" y="586" width="3.7" height="30" rx="1.8" ry="1.8" fill="#f0401a"/>
<rect x="1529.8" y="586" width="24" height="30" rx="4" ry="4" fill="#e0000c"/>
<rect x="1835.3" y="586" width="38.2" height="30" rx="4" ry="4" fill="#dc5410"/>
<rect x="1983.9" y="586" width="29.7" height="30" rx="4" ry="4" fill="#f0dc14"/>
<rect x="2053.2" y="586" width="2.6" height="30" rx="1.3" ry="1.3" fill="#f0501a"/>
<rect x="2055.7" y="586" width="2.3" height="30" rx="1.1" ry="1.1" fill="#e0201a"/>
<rect x="2058.1" y="586" width="1.2" height="30" rx="0.6" ry="0.6" fill="#f0501a"/>
<rect x="2151.3" y="586" width="1.3" height="30" rx="0.6" ry="0.6" fill="#f0c81e"/>
<rect x="2152.7" y="586" width="2.3" height="30" rx="1.1" ry="1.1" fill="#e8401a"/>
<rect x="2155.3" y="586" width="9.5" height="30" rx="4" ry="4" fill="#cc3a0c"/>
<rect x="2327.7" y="586" width="35.1" height="30" rx="4" ry="4" fill="#f07020"/>
<rect x="2363.2" y="586" width="3.4" height="30" rx="1.7" ry="1.7" fill="#c8b820"/>
<rect x="2367" y="586" width="3.1" height="30" rx="1.5" ry="1.5" fill="#e8201a"/>
<rect x="40.3" y="554" width="1.4" height="30" rx="0.7" ry="0.7" fill="#e03050"/>
<rect x="586.4" y="554" width="4.1" height="30" rx="2.1" ry="2.1" fill="#e8902a"/>
<rect x="659.4" y="554" width="4" height="30" rx="2" ry="2" fill="#e07a28"/>
<rect x="663.2" y="554" width="2.9" height="30" rx="1.4" ry="1.4" fill="#f0901a"/>
<rect x="900.7" y="554" width="9.7" height="30" rx="4" ry="4" fill="#c8502a"/>
<rect x="987.4" y="554" width="258.9" height="30" rx="4" ry="4" fill="#f17a24"/><text class="f" x="993.5" y="575" textLength="227.3" lengthAdjust="spacingAndGlyphs">T:@/usr/share/lu..</text>
<rect x="1247.2" y="554" width="4" height="30" rx="2" ry="2" fill="#d8202a"/>
<rect x="1251.1" y="554" width="2.9" height="30" rx="1.4" ry="1.4" fill="#f0602a"/>
<rect x="1253.7" y="554" width="2.4" height="30" rx="1.2" ry="1.2" fill="#f0901a"/>
<rect x="1334.1" y="554" width="2.7" height="30" rx="1.3" ry="1.3" fill="#f09a28"/>
<rect x="1529.8" y="554" width="24" height="30" rx="4" ry="4" fill="#f0401a"/>
<rect x="1835.3" y="554" width="38.2" height="30" rx="4" ry="4" fill="#dc4010"/>
<rect x="1983.9" y="554" width="29.7" height="30" rx="4" ry="4" fill="#e80020"/>
<rect x="2327.7" y="554" width="35.1" height="30" rx="4" ry="4" fill="#e8e028"/>
<rect x="2363.3" y="554" width="6.1" height="30" rx="3" ry="3" fill="#e83a20"/>
<rect x="40.3" y="522" width="1.4" height="30" rx="0.7" ry="0.7" fill="#e07040"/>
<rect x="586.4" y="522" width="4.1" height="30" rx="2.1" ry="2.1" fill="#e0c81e"/>
<rect x="664" y="522" width="1" height="30" rx="0.5" ry="0.5" fill="#d8a828"/>
<rect x="900.7" y="522" width="9.7" height="30" rx="4" ry="4" fill="#d0a818"/>
<rect x="987.6" y="522" width="3.1" height="30" rx="1.6" ry="1.6" fill="#e8501a"/>
<rect x="991.1" y="522" width="1.2" height="30" rx="0.6" ry="0.6" fill="#f0802a"/>
<rect x="992.8" y="522" width="1.4" height="30" rx="0.7" ry="0.7" fill="#e8501a"/>
<rect x="994.6" y="522" width="2.5" height="30" rx="1.2" ry="1.2" fill="#f0802a"/>
<rect x="997.1" y="522" width="6.3" height="30" rx="3.2" ry="3.2" fill="#e8501a"/>
<rect x="1004" y="522" width="214.8" height="30" rx="4" ry="4" fill="#dc0010"/><text class="f" x="1008.4" y="543" textLength="194" lengthAdjust="spacingAndGlyphs">ngx_http_lua_..</text>
<rect x="1219.5" y="522" width="4.5" height="30" rx="2.2" ry="2.2" fill="#e8401a"/>
<rect x="1224.5" y="522" width="7" height="30" rx="3.5" ry="3.5" fill="#d02a10"/>
<rect x="1233.2" y="522" width="6.5" height="30" rx="3.2" ry="3.2" fill="#f0781a"/>
<rect x="1240.7" y="522" width="6.6" height="30" rx="3.3" ry="3.3" fill="#e8c81e"/>
<rect x="1247.2" y="522" width="4" height="30" rx="2" ry="2" fill="#e0a028"/>
<rect x="1334.1" y="522" width="2.7" height="30" rx="1.3" ry="1.3" fill="#e0602a"/>
<rect x="1529.8" y="522" width="24" height="30" rx="4" ry="4" fill="#d4480e"/>
<rect x="1835.3" y="522" width="38.2" height="30" rx="4" ry="4" fill="#e82010"/>
<rect x="1983.9" y="522" width="29.7" height="30" rx="4" ry="4" fill="#c89014"/>
<rect x="2327.1" y="522" width="3.2" height="30" rx="1.6" ry="1.6" fill="#e0401a"/>
<rect x="2329.8" y="522" width="4.4" height="30" rx="2.2" ry="2.2" fill="#e8902a"/>
<rect x="2333.8" y="522" width="2.9" height="30" rx="1.5" ry="1.5" fill="#e8281a"/>
<rect x="2336.2" y="522" width="2.9" height="30" rx="1.4" ry="1.4" fill="#e8301a"/>
<rect x="2338.6" y="522" width="3.9" height="30" rx="1.9" ry="1.9" fill="#f8a030"/>
<rect x="2342" y="522" width="2.7" height="30" rx="1.3" ry="1.3" fill="#f0601a"/>
<rect x="2344.2" y="522" width="2.9" height="30" rx="1.4" ry="1.4" fill="#f8602a"/>
<rect x="2346.6" y="522" width="5.8" height="30" rx="2.9" ry="2.9" fill="#e00008"/>
<rect x="2351.8" y="522" width="2.8" height="30" rx="1.4" ry="1.4" fill="#f0a828"/>
<rect x="2354.2" y="522" width="4.4" height="30" rx="2.2" ry="2.2" fill="#d8501a"/>
<rect x="2358.1" y="522" width="4.9" height="30" rx="2.4" ry="2.4" fill="#e8381a"/>
<rect x="2362.5" y="522" width="3.4" height="30" rx="1.7" ry="1.7" fill="#f8a030"/>
<rect x="2365.3" y="522" width="4.9" height="30" rx="2.5" ry="2.5" fill="#d81a14"/>
<rect x="40.3" y="490" width="1.4" height="30" rx="0.7" ry="0.7" fill="#e04040"/>
<rect x="586.4" y="490" width="4.1" height="30" rx="2.1" ry="2.1" fill="#e02a2a"/>
<rect x="900.7" y="490" width="9.7" height="30" rx="4" ry="4" fill="#d8300e"/>
<rect x="1334.1" y="490" width="2.7" height="30" rx="1.3" ry="1.3" fill="#f0a030"/>
<rect x="1529.8" y="490" width="24" height="30" rx="4" ry="4" fill="#e68218"/>
<rect x="1835.3" y="490" width="38.2" height="30" rx="4" ry="4" fill="#d43a20"/>
<rect x="1983.9" y="490" width="29.7" height="30" rx="4" ry="4" fill="#e0c414"/>
<rect x="2362.8" y="490" width="2.2" height="30" rx="1.1" ry="1.1" fill="#e0501a"/>
<rect x="2364.5" y="490" width="2.2" height="30" rx="1.1" ry="1.1" fill="#f0901a"/>
<rect x="2366.2" y="490" width="4" height="30" rx="2" ry="2" fill="#d8c828"/>
<rect x="40.3" y="458" width="1.4" height="30" rx="0.7" ry="0.7" fill="#e0d040"/>
<rect x="586.4" y="458" width="4.1" height="30" rx="2.1" ry="2.1" fill="#e0202a"/>
<rect x="900.7" y="458" width="9.7" height="30" rx="4" ry="4" fill="#d01a14"/>
<rect x="1334.1" y="458" width="2.7" height="30" rx="1.3" ry="1.3" fill="#c8d828"/>
<rect x="1529.8" y="458" width="24" height="30" rx="4" ry="4" fill="#dc780c"/>
<rect x="1835.3" y="458" width="38.2" height="30" rx="4" ry="4" fill="#d40818"/>
<rect x="1983.9" y="458" width="29.7" height="30" rx="4" ry="4" fill="#f0500e"/>
<rect x="2362.7" y="458" width="3.2" height="30" rx="1.6" ry="1.6" fill="#d8601a"/>
<rect x="2366" y="458" width="4.2" height="30" rx="2.1" ry="2.1" fill="#e0201a"/>
<rect x="40.3" y="426" width="1.4" height="30" rx="0.7" ry="0.7" fill="#e0d040"/>
<rect x="586.4" y="426" width="4.1" height="30" rx="2.1" ry="2.1" fill="#d8882a"/>
<rect x="900.7" y="426" width="9.7" height="30" rx="4" ry="4" fill="#f0082a"/>
<rect x="1334.1" y="426" width="2.7" height="30" rx="1.3" ry="1.3" fill="#d8202a"/>
<rect x="1529.8" y="426" width="24" height="30" rx="4" ry="4" fill="#fa1e10"/>
<rect x="1835.3" y="426" width="38.2" height="30" rx="4" ry="4" fill="#c8c820"/>
<rect x="1983.9" y="426" width="29.7" height="30" rx="4" ry="4" fill="#c8b818"/>
<rect x="2362.7" y="426" width="3.2" height="30" rx="1.6" ry="1.6" fill="#f08a28"/>
<rect x="2366" y="426" width="4.2" height="30" rx="2.1" ry="2.1" fill="#e8201a"/>
<rect x="40.3" y="394" width="1.4" height="30" rx="0.7" ry="0.7" fill="#d8c040"/>
<rect x="586.4" y="394" width="4.1" height="30" rx="2.1" ry="2.1" fill="#e83a1a"/>
<rect x="900.7" y="394" width="9.7" height="30" rx="4" ry="4" fill="#e0601a"/>
<rect x="1334.1" y="394" width="2.7" height="30" rx="1.3" ry="1.3" fill="#c81a3a"/>
<rect x="1529.8" y="394" width="24" height="30" rx="4" ry="4" fill="#d8b01c"/>
<rect x="1835.3" y="394" width="38.2" height="30" rx="4" ry="4" fill="#d0480c"/>
<rect x="1983.9" y="394" width="29.7" height="30" rx="4" ry="4" fill="#dc3a10"/>
<rect x="2366.8" y="394" width="3.5" height="30" rx="1.8" ry="1.8" fill="#d8201a"/>
<rect x="40.3" y="362" width="1.4" height="30" rx="0.7" ry="0.7" fill="#f0a830"/>
<rect x="900.7" y="362" width="9.7" height="30" rx="4" ry="4" fill="#d8a818"/>
<rect x="1334.1" y="362" width="2.7" height="30" rx="1.3" ry="1.3" fill="#d8302a"/>
<rect x="1529.8" y="362" width="24" height="30" rx="4" ry="4" fill="#e28526"/>
<rect x="1835.3" y="362" width="38.2" height="30" rx="4" ry="4" fill="#f0760e"/>
<rect x="2366.8" y="362" width="3.5" height="30" rx="1.8" ry="1.8" fill="#c8400e"/>
<rect x="40.3" y="330" width="1.4" height="30" rx="0.7" ry="0.7" fill="#e0b050"/>
<rect x="900.7" y="330" width="9.7" height="30" rx="4" ry="4" fill="#c02a1a"/>
<rect x="1334.1" y="330" width="2.7" height="30" rx="1.3" ry="1.3" fill="#e0d828"/>
<rect x="2366.8" y="330" width="3.5" height="30" rx="1.8" ry="1.8" fill="#f04040"/>
<rect x="40.3" y="298" width="1.4" height="30" rx="0.7" ry="0.7" fill="#e03050"/>
<rect x="900.7" y="298" width="9.7" height="30" rx="4" ry="4" fill="#f00a28"/>
<rect x="1334.1" y="298" width="2.7" height="30" rx="1.3" ry="1.3" fill="#e88030"/>
<rect x="2366.8" y="298" width="3.5" height="30" rx="1.8" ry="1.8" fill="#e89a1a"/>
<rect x="40.3" y="266" width="1.4" height="30" rx="0.7" ry="0.7" fill="#e03040"/>
<rect x="900.7" y="266" width="9.7" height="30" rx="4" ry="4" fill="#c09a2a"/>
<rect x="1334.1" y="266" width="2.7" height="30" rx="1.3" ry="1.3" fill="#c06030"/>
<rect x="2366.8" y="266" width="3.5" height="30" rx="1.8" ry="1.8" fill="#e01020"/>
<rect x="40.3" y="234" width="1.4" height="30" rx="0.7" ry="0.7" fill="#e0d040"/>
<rect x="900.7" y="234" width="9.7" height="30" rx="4" ry="4" fill="#c4e01c"/>
<rect x="1334.1" y="234" width="2.7" height="30" rx="1.3" ry="1.3" fill="#f89040"/>
<rect x="40.3" y="202" width="1.4" height="30" rx="0.7" ry="0.7" fill="#e03040"/>
<rect x="900.7" y="202" width="9.7" height="30" rx="4" ry="4" fill="#e6d215"/>
<rect x="1334.1" y="202" width="2.7" height="30" rx="1.3" ry="1.3" fill="#c0a830"/>
<rect x="40.3" y="170" width="1.4" height="30" rx="0.7" ry="0.7" fill="#e03040"/>
<rect x="900.7" y="170" width="9.7" height="30" rx="4" ry="4" fill="#fa5a1a"/>
<rect x="1334.1" y="170" width="2.7" height="30" rx="1.3" ry="1.3" fill="#c86030"/>
<rect x="40.3" y="138" width="1.4" height="30" rx="0.7" ry="0.7" fill="#e03040"/>
<rect x="900.7" y="138" width="9.7" height="30" rx="4" ry="4" fill="#c80a24"/>
<rect x="1334.1" y="138" width="2.7" height="30" rx="1.3" ry="1.3" fill="#d8e030"/>
<rect x="40.3" y="106" width="1.4" height="30" rx="0.7" ry="0.7" fill="#e8a830"/>
<rect x="1334.1" y="106" width="2.7" height="30" rx="1.3" ry="1.3" fill="#f0b030"/>
<rect x="1334.1" y="74" width="2.7" height="30" rx="1.3" ry="1.3" fill="#d8e030"/>
</svg>
</body></html>
